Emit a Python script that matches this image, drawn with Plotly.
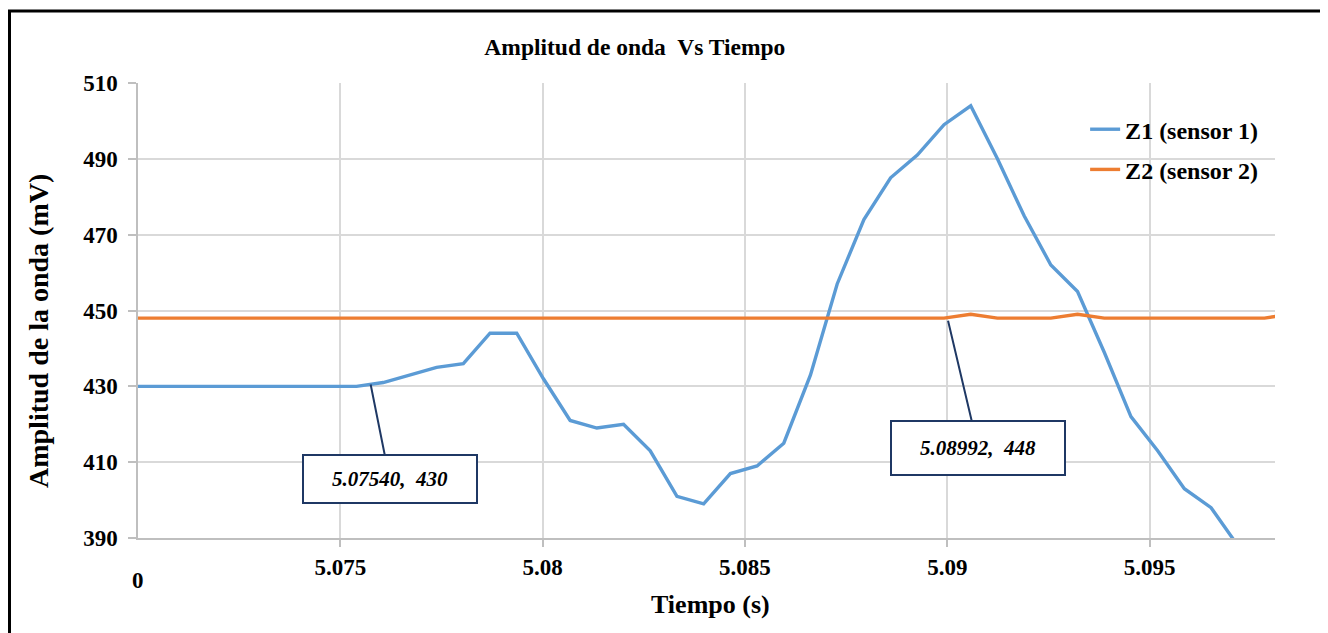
import plotly.graph_objects as go

# ---- data ----
tiempo = [5.06946, 5.07012, 5.07078, 5.07144, 5.07210, 5.07276, 5.07342, 5.07408, 5.07474,
          5.07540, 5.07606, 5.07672, 5.07738, 5.07804, 5.07870, 5.07936, 5.08002, 5.08068,
          5.08134, 5.08200, 5.08266, 5.08332, 5.08398, 5.08464, 5.08530, 5.08596, 5.08662,
          5.08728, 5.08794, 5.08860, 5.08926, 5.08992, 5.09058, 5.09124, 5.09190, 5.09256,
          5.09322, 5.09388, 5.09454, 5.09520, 5.09586, 5.09652, 5.09718, 5.09784, 5.09850]
z1 = [430, 430, 430, 430, 430, 430, 430, 430, 430,
      430, 431, 433, 435, 436, 444, 444, 432, 421,
      419, 420, 413, 401, 399, 407, 409, 415, 433,
      457, 474, 485, 491, 499, 504, 490, 475, 462,
      455, 439, 422, 413, 403, 398, 388, 378, 370]
z2 = [448, 448, 448, 448, 448, 448, 448, 448, 448,
      448, 448, 448, 448, 448, 448, 448, 448, 448,
      448, 448, 448, 448, 448, 448, 448, 448, 448,
      448, 448, 448, 448, 448, 449, 448, 448, 448,
      449, 448, 448, 448, 448, 448, 448, 448, 449]

x_ticks = [5.075, 5.08, 5.085, 5.09, 5.095]
x_ticktext = ["5.075", "5.08", "5.085", "5.09", "5.095"]
y_ticks = [390, 410, 430, 450, 470, 490, 510]

FONT = "Liberation Serif"
NAVY = "#1f3864"
GRID = "#d9d9d9"
W, H = 1320, 625  # page body has an 8px margin

fig = go.Figure()
fig.add_trace(go.Scatter(x=tiempo, y=z1, mode="lines", name="<b>Z1 (sensor 1)</b>",
                         line=dict(color="#5b9bd5", width=3.4), legendgroup="a"))
fig.add_trace(go.Scatter(x=tiempo, y=z2, mode="lines", name="<b>Z2 (sensor 2)</b>",
                         line=dict(color="#ed7d31", width=3.4), legendgroup="b"))

fig.update_layout(
    width=W, height=H,
    margin=dict(l=130, r=53, t=75, b=95),
    paper_bgcolor="white", plot_bgcolor="white",
    font=dict(family=FONT, size=23, color="black"),
    title=dict(text="<b>Amplitud de onda&nbsp; Vs Tiempo</b>", x=0.437, xref="paper",
               xanchor="center", y=1 - 39 / H, yref="container", yanchor="middle",
               font=dict(family=FONT, size=23.5, color="black")),
    showlegend=True,
    legend=dict(x=0.833, y=0.947, xanchor="left", yanchor="top", bgcolor="rgba(0,0,0,0)",
                font=dict(family=FONT, size=24, color="black"), tracegroupgap=6,
                traceorder="grouped"),
    xaxis=dict(range=[5.070, 5.0981], tickvals=x_ticks,
               ticktext=[f"<b>{t}</b>" for t in x_ticktext],
               showgrid=True, gridcolor=GRID, gridwidth=1.5,
               showline=True, linecolor="#bfbfbf", linewidth=1.5,
               ticks="outside", ticklen=7, tickcolor="#bfbfbf", tickwidth=1.5,
               ticklabelstandoff=1, zeroline=False,
               tickfont=dict(family=FONT, size=23, color="black")),
    yaxis=dict(range=[390, 510], tickvals=y_ticks, ticktext=[f"<b>{v}</b>" for v in y_ticks],
               showgrid=True, gridcolor=GRID, gridwidth=1.5,
               showline=True, linecolor="#bfbfbf", linewidth=1.5,
               ticks="outside", ticklen=8, tickcolor="#bfbfbf", tickwidth=1.5,
               ticklabelstandoff=6, zeroline=False,
               tickfont=dict(family=FONT, size=23, color="black")),
)

annotations = [
    dict(text="<b>0</b>", x=5.070, xref="x", y=(538 - 580) / 455, yref="paper",
         showarrow=False, xanchor="center", yanchor="middle",
         font=dict(family=FONT, size=23, color="black")),
    dict(text="<b>Tiempo (s)</b>", x=(710 - 138) / 1137, xref="paper",
         y=(538 - 604) / 455, yref="paper", showarrow=False,
         xanchor="center", yanchor="middle", font=dict(family=FONT, size=26, color="black")),
    dict(text="<b>Amplitud de la onda (mV)</b>", x=(38 - 138) / 1137, xref="paper",
         y=(538 - 331) / 455, yref="paper", showarrow=False, textangle=-90,
         xanchor="center", yanchor="middle", font=dict(family=FONT, size=28, color="black")),
    dict(text="<b><i>5.07540,&nbsp; 430</i></b>", x=5.07575, y=430.5, xref="x", yref="y",
         showarrow=True, arrowhead=0, arrowwidth=2, arrowcolor=NAVY, ax=19, ay=95,
         bordercolor=NAVY, borderwidth=2, borderpad=2, bgcolor="white",
         width=168, height=42, align="center",
         font=dict(family=FONT, size=21, color="black")),
    dict(text="<b><i>5.08992,&nbsp; 448</i></b>", x=5.09002, y=447.3, xref="x", yref="y",
         showarrow=True, arrowhead=0, arrowwidth=2, arrowcolor=NAVY, ax=30, ay=127,
         bordercolor=NAVY, borderwidth=2, borderpad=2, bgcolor="white",
         width=168, height=48, align="center",
         font=dict(family=FONT, size=21, color="black")),
]
fig.update_layout(annotations=annotations)

fig.add_shape(type="rect", xref="paper", yref="paper",
              x0=(9.5 - 138) / 1137, x1=(1325 - 138) / 1137,
              y0=(538 - 660) / 455, y1=(538 - 11) / 455,
              line=dict(color="black", width=3), fillcolor="rgba(0,0,0,0)", layer="above")

fig.write_html("out.html")
